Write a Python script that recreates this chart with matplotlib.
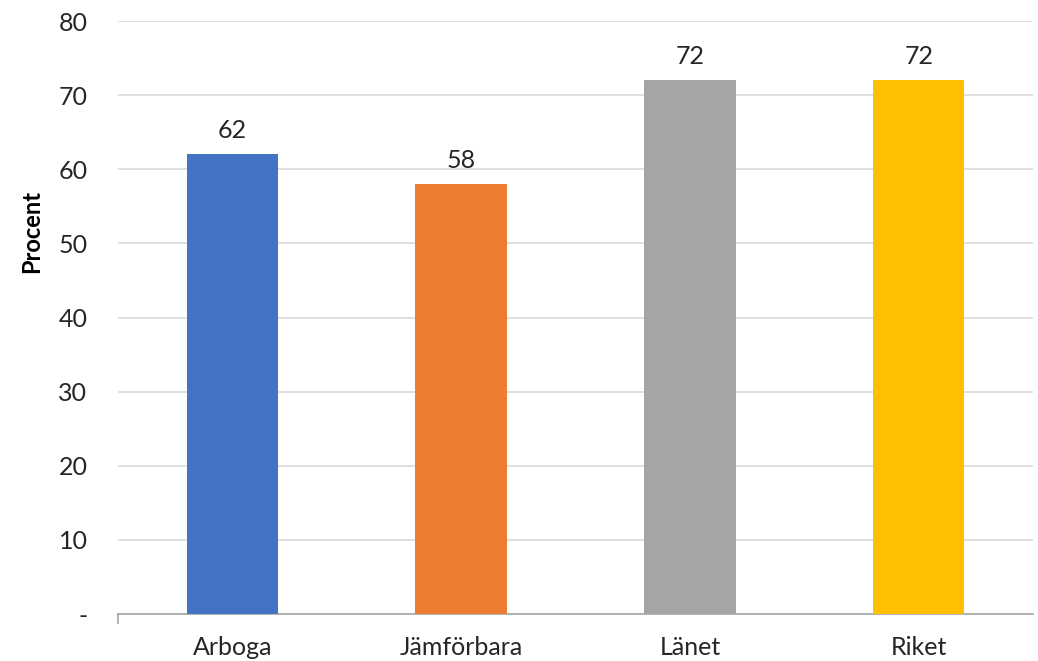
import matplotlib.pyplot as plt
from matplotlib.ticker import FuncFormatter

categories = ["Arboga", "Jämförbara", "Länet", "Riket"]
values = [62, 58, 72, 72]
colors = ["#4472C4", "#ED7D31", "#A5A5A5", "#FFC000"]
yticks = [0, 10, 20, 30, 40, 50, 60, 70, 80]

plt.rcParams['font.family'] = ['Lato', 'DejaVu Sans']

fig = plt.figure(figsize=(10.38, 6.61), dpi=100)
ax = fig.add_axes([0.1137, 0.0711, 0.8815, 0.8971])

x = range(len(categories))
bars = ax.bar(x, values, width=0.4, color=colors, zorder=3)
for b, v in zip(bars, values):
    ax.annotate(str(v), (b.get_x() + b.get_width() / 2, v),
                xytext=(0, 9), textcoords="offset points",
                ha="center", va="bottom", fontsize=18, color="#262626")

ax.set_xlim(-0.5, len(categories) - 0.5)
ax.set_ylim(0, 80)
ax.set_yticks(yticks)
ax.yaxis.set_major_formatter(FuncFormatter(lambda v, p: "-" if v == 0 else f"{v:.0f}"))
ax.set_xticks(list(x))
ax.set_xticklabels(categories)

ax.grid(axis="y", color="#D9D9D9", linewidth=1.2, zorder=0)
for s in ["top", "right", "left"]:
    ax.spines[s].set_visible(False)
ax.spines["bottom"].set_color("#A6A6A6")
ax.spines["bottom"].set_linewidth(1.2)

ax.tick_params(axis="y", length=0, pad=22, labelsize=18, labelcolor="#262626")
ax.tick_params(axis="x", length=0, pad=16, labelsize=18, labelcolor="#262626")
# small tick at left end of category axis
ax.plot([-0.5, -0.5], [0, -1.2], color="#A6A6A6", linewidth=1.2, clip_on=False)

ax.set_ylabel("Procent", fontsize=17, fontweight="bold", va="center")
ax.yaxis.set_label_coords(-0.094, 0.645)

fig.savefig("out.png", dpi=100)
